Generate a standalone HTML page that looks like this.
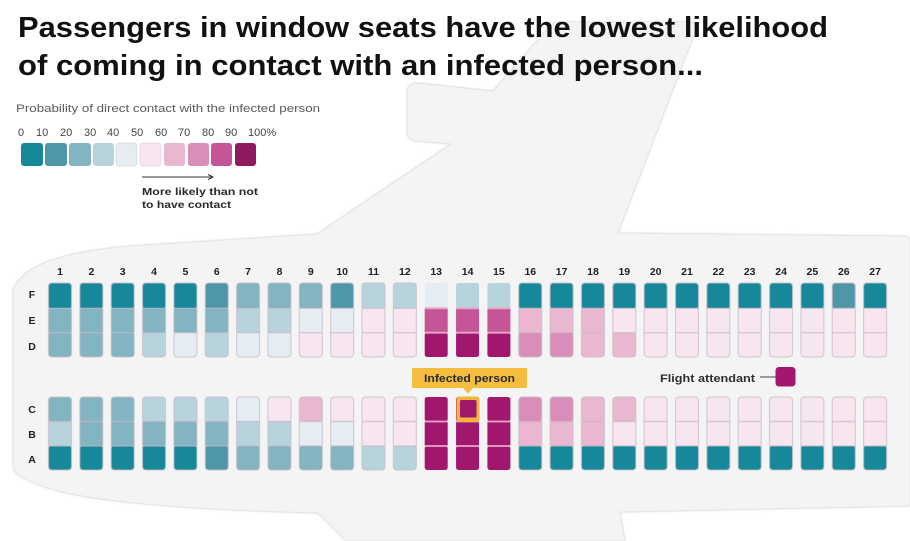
<!DOCTYPE html>
<html><head><meta charset="utf-8">
<style>
html,body{margin:0;padding:0;background:#fff;}
svg{display:block;}
text{font-family:"Liberation Sans",sans-serif;}
.c0{fill:#17879a}.c1{fill:#4e97a9}.c2{fill:#83b4c2}.c3{fill:#b7d4dd}.c4{fill:#e5edf2}
.c5{fill:#f7e6ef}.c6{fill:#e9b7d0}.c7{fill:#da8db8}.c8{fill:#c45697}.c9{fill:#a1176d}
.n{font-size:10.5px;font-weight:bold;fill:#222;text-anchor:middle;}
</style></head>
<body>
<svg width="910" height="541" viewBox="0 0 910 541" xmlns="http://www.w3.org/2000/svg">
<defs>
<filter id="sh" x="-5%" y="-5%" width="110%" height="110%"><feGaussianBlur stdDeviation="1.2"/></filter>
<g id="o">
<rect x="0" y="283" width="23" height="74" rx="3.5" fill="none" stroke="#c6bec8" stroke-width="1.2" opacity="0.7"/>
<path d="M0 308.3H23M0 332.7H23" stroke="#c4b4c3" stroke-width="1.4" opacity="0.6"/>
<rect x="0" y="397" width="23" height="73" rx="3.5" fill="none" stroke="#c6bec8" stroke-width="1.2" opacity="0.7"/>
<path d="M0 421.5H23M0 446H23" stroke="#c4b4c3" stroke-width="1.4" opacity="0.6"/>
</g>
<g id="om">
<path d="M0 308.3H23M0 332.7H23" stroke="#e7a6c9" stroke-width="1.8"/>
<path d="M0 421.5H23M0 446H23" stroke="#e7a6c9" stroke-width="1.8"/>
</g>
</defs>

<!-- plane silhouette -->
<path id="pl" d="M13,290 C22,266 60,252 130,246 L317,234 L451,144 L416,141 Q407,140 407,131 L407,93 Q407,83 417,83 L493,91 L548,28 Q553,22 560,22 L688,22 Q698,22 695,32 L618,233 L905,236 Q910,237 910,240 L910,506 L620,512 L625,541 L346,541 L318,513 C200,510 90,503 45,487 C25,480 13,474 13,466 Z" fill="#d9d9d9" filter="url(#sh)"/>
<path d="M13,290 C22,266 60,252 130,246 L317,234 L451,144 L416,141 Q407,140 407,131 L407,93 Q407,83 417,83 L493,91 L548,28 Q553,22 560,22 L688,22 Q698,22 695,32 L618,233 L905,236 Q910,237 910,240 L910,506 L620,512 L625,541 L346,541 L318,513 C200,510 90,503 45,487 C25,480 13,474 13,466 Z" fill="#f4f4f4" stroke="#e4e4e4" stroke-width="1"/>

<!-- title -->
<text x="18" y="37" font-size="29" font-weight="bold" fill="#111" textLength="810" lengthAdjust="spacingAndGlyphs">Passengers in window seats have the lowest likelihood</text>
<text x="18" y="75" font-size="29" font-weight="bold" fill="#111" textLength="685" lengthAdjust="spacingAndGlyphs">of coming in contact with an infected person...</text>

<!-- legend -->
<text x="16" y="112" font-size="11" fill="#5a5a5a" textLength="304" lengthAdjust="spacingAndGlyphs">Probability of direct contact with the infected person</text>
<g font-size="11" fill="#444">
<text x="18" y="136">0</text><text x="36" y="136">10</text><text x="60" y="136">20</text><text x="84" y="136">30</text><text x="107" y="136">40</text><text x="131" y="136">50</text><text x="155" y="136">60</text><text x="178" y="136">70</text><text x="202" y="136">80</text><text x="225" y="136">90</text><text x="248" y="136">100%</text>
</g>
<g>
<rect x="21" y="143" width="22" height="23" rx="3" class="c0"/>
<rect x="45" y="143" width="22" height="23" rx="3" class="c1"/>
<rect x="69" y="143" width="22" height="23" rx="3" class="c2"/>
<rect x="93" y="143" width="21" height="23" rx="3" class="c3"/>
<rect x="116" y="143" width="21" height="23" rx="3" class="c4" stroke="#d4d8dc" stroke-width="0.8"/>
<rect x="140" y="143" width="21" height="23" rx="3" class="c5" stroke="#e2d2dc" stroke-width="0.8"/>
<rect x="164" y="143" width="21" height="23" rx="3" class="c6"/>
<rect x="188" y="143" width="21" height="23" rx="3" class="c7"/>
<rect x="211" y="143" width="21" height="23" rx="3" class="c8"/>
<rect x="235" y="143" width="21" height="23" rx="3" fill="#8f1a5f"/>
</g>
<path d="M142 177H212" stroke="#333" stroke-width="1"/>
<path d="M208 174.5L213 177L208 179.5" fill="none" stroke="#333" stroke-width="1"/>
<text x="142" y="195" font-size="10.5" font-weight="bold" fill="#2a2a2a" textLength="116" lengthAdjust="spacingAndGlyphs">More likely than not</text>
<text x="142" y="208" font-size="10.5" font-weight="bold" fill="#2a2a2a" textLength="89" lengthAdjust="spacingAndGlyphs">to have contact</text>

<!-- row labels -->
<g>
<text x="32" y="298" class="n">F</text><text x="32" y="324" class="n">E</text><text x="32" y="350" class="n">D</text>
<text x="32" y="413" class="n">C</text><text x="32" y="438" class="n">B</text><text x="32" y="463" class="n">A</text>
</g>

<!-- column numbers -->
<g>
<text class="n" x="60" y="275">1</text><text class="n" x="91.4" y="275">2</text><text class="n" x="122.7" y="275">3</text><text class="n" x="154.1" y="275">4</text><text class="n" x="185.4" y="275">5</text><text class="n" x="216.8" y="275">6</text><text class="n" x="248.1" y="275">7</text><text class="n" x="279.5" y="275">8</text><text class="n" x="310.8" y="275">9</text><text class="n" x="342.2" y="275">10</text><text class="n" x="373.5" y="275">11</text><text class="n" x="404.9" y="275">12</text><text class="n" x="436.2" y="275">13</text><text class="n" x="467.6" y="275">14</text><text class="n" x="498.9" y="275">15</text><text class="n" x="530.3" y="275">16</text><text class="n" x="561.6" y="275">17</text><text class="n" x="593" y="275">18</text><text class="n" x="624.3" y="275">19</text><text class="n" x="655.7" y="275">20</text><text class="n" x="687" y="275">21</text><text class="n" x="718.4" y="275">22</text><text class="n" x="749.7" y="275">23</text><text class="n" x="781.1" y="275">24</text><text class="n" x="812.4" y="275">25</text><text class="n" x="843.8" y="275">26</text><text class="n" x="875.1" y="275">27</text>
</g>

<!-- seats: F,E,D,C,B,A -->
<g transform="translate(48.5,0)"><rect class="c0" y="283" width="23" height="25.3" rx="2.5"/><rect class="c2" y="308.3" width="23" height="24.4" rx="1"/><rect class="c2" y="332.7" width="23" height="24.3" rx="2.5"/><rect class="c2" y="397" width="23" height="24.5" rx="2.5"/><rect class="c3" y="421.5" width="23" height="24.5" rx="1"/><rect class="c0" y="446" width="23" height="24" rx="2.5"/><use href="#o"/></g>
<g transform="translate(79.85,0)"><rect class="c0" y="283" width="23" height="25.3" rx="2.5"/><rect class="c2" y="308.3" width="23" height="24.4" rx="1"/><rect class="c2" y="332.7" width="23" height="24.3" rx="2.5"/><rect class="c2" y="397" width="23" height="24.5" rx="2.5"/><rect class="c2" y="421.5" width="23" height="24.5" rx="1"/><rect class="c0" y="446" width="23" height="24" rx="2.5"/><use href="#o"/></g>
<g transform="translate(111.2,0)"><rect class="c0" y="283" width="23" height="25.3" rx="2.5"/><rect class="c2" y="308.3" width="23" height="24.4" rx="1"/><rect class="c2" y="332.7" width="23" height="24.3" rx="2.5"/><rect class="c2" y="397" width="23" height="24.5" rx="2.5"/><rect class="c2" y="421.5" width="23" height="24.5" rx="1"/><rect class="c0" y="446" width="23" height="24" rx="2.5"/><use href="#o"/></g>
<g transform="translate(142.55,0)"><rect class="c0" y="283" width="23" height="25.3" rx="2.5"/><rect class="c2" y="308.3" width="23" height="24.4" rx="1"/><rect class="c3" y="332.7" width="23" height="24.3" rx="2.5"/><rect class="c3" y="397" width="23" height="24.5" rx="2.5"/><rect class="c2" y="421.5" width="23" height="24.5" rx="1"/><rect class="c0" y="446" width="23" height="24" rx="2.5"/><use href="#o"/></g>
<g transform="translate(173.9,0)"><rect class="c0" y="283" width="23" height="25.3" rx="2.5"/><rect class="c2" y="308.3" width="23" height="24.4" rx="1"/><rect class="c4" y="332.7" width="23" height="24.3" rx="2.5"/><rect class="c3" y="397" width="23" height="24.5" rx="2.5"/><rect class="c2" y="421.5" width="23" height="24.5" rx="1"/><rect class="c0" y="446" width="23" height="24" rx="2.5"/><use href="#o"/></g>
<g transform="translate(205.25,0)"><rect class="c1" y="283" width="23" height="25.3" rx="2.5"/><rect class="c2" y="308.3" width="23" height="24.4" rx="1"/><rect class="c3" y="332.7" width="23" height="24.3" rx="2.5"/><rect class="c3" y="397" width="23" height="24.5" rx="2.5"/><rect class="c2" y="421.5" width="23" height="24.5" rx="1"/><rect class="c1" y="446" width="23" height="24" rx="2.5"/><use href="#o"/></g>
<g transform="translate(236.6,0)"><rect class="c2" y="283" width="23" height="25.3" rx="2.5"/><rect class="c3" y="308.3" width="23" height="24.4" rx="1"/><rect class="c4" y="332.7" width="23" height="24.3" rx="2.5"/><rect class="c4" y="397" width="23" height="24.5" rx="2.5"/><rect class="c3" y="421.5" width="23" height="24.5" rx="1"/><rect class="c2" y="446" width="23" height="24" rx="2.5"/><use href="#o"/></g>
<g transform="translate(267.95,0)"><rect class="c2" y="283" width="23" height="25.3" rx="2.5"/><rect class="c3" y="308.3" width="23" height="24.4" rx="1"/><rect class="c4" y="332.7" width="23" height="24.3" rx="2.5"/><rect class="c5" y="397" width="23" height="24.5" rx="2.5"/><rect class="c3" y="421.5" width="23" height="24.5" rx="1"/><rect class="c2" y="446" width="23" height="24" rx="2.5"/><use href="#o"/></g>
<g transform="translate(299.3,0)"><rect class="c2" y="283" width="23" height="25.3" rx="2.5"/><rect class="c4" y="308.3" width="23" height="24.4" rx="1"/><rect class="c5" y="332.7" width="23" height="24.3" rx="2.5"/><rect class="c6" y="397" width="23" height="24.5" rx="2.5"/><rect class="c4" y="421.5" width="23" height="24.5" rx="1"/><rect class="c2" y="446" width="23" height="24" rx="2.5"/><use href="#o"/></g>
<g transform="translate(330.65,0)"><rect class="c1" y="283" width="23" height="25.3" rx="2.5"/><rect class="c4" y="308.3" width="23" height="24.4" rx="1"/><rect class="c5" y="332.7" width="23" height="24.3" rx="2.5"/><rect class="c5" y="397" width="23" height="24.5" rx="2.5"/><rect class="c4" y="421.5" width="23" height="24.5" rx="1"/><rect class="c2" y="446" width="23" height="24" rx="2.5"/><use href="#o"/></g>
<g transform="translate(362,0)"><rect class="c3" y="283" width="23" height="25.3" rx="2.5"/><rect class="c5" y="308.3" width="23" height="24.4" rx="1"/><rect class="c5" y="332.7" width="23" height="24.3" rx="2.5"/><rect class="c5" y="397" width="23" height="24.5" rx="2.5"/><rect class="c5" y="421.5" width="23" height="24.5" rx="1"/><rect class="c3" y="446" width="23" height="24" rx="2.5"/><use href="#o"/></g>
<g transform="translate(393.35,0)"><rect class="c3" y="283" width="23" height="25.3" rx="2.5"/><rect class="c5" y="308.3" width="23" height="24.4" rx="1"/><rect class="c5" y="332.7" width="23" height="24.3" rx="2.5"/><rect class="c5" y="397" width="23" height="24.5" rx="2.5"/><rect class="c5" y="421.5" width="23" height="24.5" rx="1"/><rect class="c3" y="446" width="23" height="24" rx="2.5"/><use href="#o"/></g>
<g transform="translate(424.7,0)"><rect class="c4" y="283" width="23" height="25.3" rx="2.5"/><rect class="c8" y="308.3" width="23" height="24.4" rx="1"/><rect class="c9" y="332.7" width="23" height="24.3" rx="2.5"/><rect class="c9" y="397" width="23" height="24.5" rx="2.5"/><rect class="c9" y="421.5" width="23" height="24.5" rx="1"/><rect class="c9" y="446" width="23" height="24" rx="2.5"/><use href="#om"/></g>
<g transform="translate(456.05,0)"><rect class="c3" y="283" width="23" height="25.3" rx="2.5"/><rect class="c8" y="308.3" width="23" height="24.4" rx="1"/><rect class="c9" y="332.7" width="23" height="24.3" rx="2.5"/><rect class="c9" y="397" width="23" height="24.5" rx="2.5"/><rect class="c9" y="421.5" width="23" height="24.5" rx="1"/><rect class="c9" y="446" width="23" height="24" rx="2.5"/><use href="#om"/></g>
<g transform="translate(487.4,0)"><rect class="c3" y="283" width="23" height="25.3" rx="2.5"/><rect class="c8" y="308.3" width="23" height="24.4" rx="1"/><rect class="c9" y="332.7" width="23" height="24.3" rx="2.5"/><rect class="c9" y="397" width="23" height="24.5" rx="2.5"/><rect class="c9" y="421.5" width="23" height="24.5" rx="1"/><rect class="c9" y="446" width="23" height="24" rx="2.5"/><use href="#om"/></g>
<g transform="translate(518.75,0)"><rect class="c0" y="283" width="23" height="25.3" rx="2.5"/><rect class="c6" y="308.3" width="23" height="24.4" rx="1"/><rect class="c7" y="332.7" width="23" height="24.3" rx="2.5"/><rect class="c7" y="397" width="23" height="24.5" rx="2.5"/><rect class="c6" y="421.5" width="23" height="24.5" rx="1"/><rect class="c0" y="446" width="23" height="24" rx="2.5"/><use href="#o"/></g>
<g transform="translate(550.1,0)"><rect class="c0" y="283" width="23" height="25.3" rx="2.5"/><rect class="c6" y="308.3" width="23" height="24.4" rx="1"/><rect class="c7" y="332.7" width="23" height="24.3" rx="2.5"/><rect class="c7" y="397" width="23" height="24.5" rx="2.5"/><rect class="c6" y="421.5" width="23" height="24.5" rx="1"/><rect class="c0" y="446" width="23" height="24" rx="2.5"/><use href="#o"/></g>
<g transform="translate(581.45,0)"><rect class="c0" y="283" width="23" height="25.3" rx="2.5"/><rect class="c6" y="308.3" width="23" height="24.4" rx="1"/><rect class="c6" y="332.7" width="23" height="24.3" rx="2.5"/><rect class="c6" y="397" width="23" height="24.5" rx="2.5"/><rect class="c6" y="421.5" width="23" height="24.5" rx="1"/><rect class="c0" y="446" width="23" height="24" rx="2.5"/><use href="#o"/></g>
<g transform="translate(612.8,0)"><rect class="c0" y="283" width="23" height="25.3" rx="2.5"/><rect class="c5" y="308.3" width="23" height="24.4" rx="1"/><rect class="c6" y="332.7" width="23" height="24.3" rx="2.5"/><rect class="c6" y="397" width="23" height="24.5" rx="2.5"/><rect class="c5" y="421.5" width="23" height="24.5" rx="1"/><rect class="c0" y="446" width="23" height="24" rx="2.5"/><use href="#o"/></g>
<g transform="translate(644.15,0)"><rect class="c0" y="283" width="23" height="25.3" rx="2.5"/><rect class="c5" y="308.3" width="23" height="24.4" rx="1"/><rect class="c5" y="332.7" width="23" height="24.3" rx="2.5"/><rect class="c5" y="397" width="23" height="24.5" rx="2.5"/><rect class="c5" y="421.5" width="23" height="24.5" rx="1"/><rect class="c0" y="446" width="23" height="24" rx="2.5"/><use href="#o"/></g>
<g transform="translate(675.5,0)"><rect class="c0" y="283" width="23" height="25.3" rx="2.5"/><rect class="c5" y="308.3" width="23" height="24.4" rx="1"/><rect class="c5" y="332.7" width="23" height="24.3" rx="2.5"/><rect class="c5" y="397" width="23" height="24.5" rx="2.5"/><rect class="c5" y="421.5" width="23" height="24.5" rx="1"/><rect class="c0" y="446" width="23" height="24" rx="2.5"/><use href="#o"/></g>
<g transform="translate(706.85,0)"><rect class="c0" y="283" width="23" height="25.3" rx="2.5"/><rect class="c5" y="308.3" width="23" height="24.4" rx="1"/><rect class="c5" y="332.7" width="23" height="24.3" rx="2.5"/><rect class="c5" y="397" width="23" height="24.5" rx="2.5"/><rect class="c5" y="421.5" width="23" height="24.5" rx="1"/><rect class="c0" y="446" width="23" height="24" rx="2.5"/><use href="#o"/></g>
<g transform="translate(738.2,0)"><rect class="c0" y="283" width="23" height="25.3" rx="2.5"/><rect class="c5" y="308.3" width="23" height="24.4" rx="1"/><rect class="c5" y="332.7" width="23" height="24.3" rx="2.5"/><rect class="c5" y="397" width="23" height="24.5" rx="2.5"/><rect class="c5" y="421.5" width="23" height="24.5" rx="1"/><rect class="c0" y="446" width="23" height="24" rx="2.5"/><use href="#o"/></g>
<g transform="translate(769.55,0)"><rect class="c0" y="283" width="23" height="25.3" rx="2.5"/><rect class="c5" y="308.3" width="23" height="24.4" rx="1"/><rect class="c5" y="332.7" width="23" height="24.3" rx="2.5"/><rect class="c5" y="397" width="23" height="24.5" rx="2.5"/><rect class="c5" y="421.5" width="23" height="24.5" rx="1"/><rect class="c0" y="446" width="23" height="24" rx="2.5"/><use href="#o"/></g>
<g transform="translate(800.9,0)"><rect class="c0" y="283" width="23" height="25.3" rx="2.5"/><rect class="c5" y="308.3" width="23" height="24.4" rx="1"/><rect class="c5" y="332.7" width="23" height="24.3" rx="2.5"/><rect class="c5" y="397" width="23" height="24.5" rx="2.5"/><rect class="c5" y="421.5" width="23" height="24.5" rx="1"/><rect class="c0" y="446" width="23" height="24" rx="2.5"/><use href="#o"/></g>
<g transform="translate(832.25,0)"><rect class="c1" y="283" width="23" height="25.3" rx="2.5"/><rect class="c5" y="308.3" width="23" height="24.4" rx="1"/><rect class="c5" y="332.7" width="23" height="24.3" rx="2.5"/><rect class="c5" y="397" width="23" height="24.5" rx="2.5"/><rect class="c5" y="421.5" width="23" height="24.5" rx="1"/><rect class="c0" y="446" width="23" height="24" rx="2.5"/><use href="#o"/></g>
<g transform="translate(863.6,0)"><rect class="c0" y="283" width="23" height="25.3" rx="2.5"/><rect class="c5" y="308.3" width="23" height="24.4" rx="1"/><rect class="c5" y="332.7" width="23" height="24.3" rx="2.5"/><rect class="c5" y="397" width="23" height="24.5" rx="2.5"/><rect class="c5" y="421.5" width="23" height="24.5" rx="1"/><rect class="c0" y="446" width="23" height="24" rx="2.5"/><use href="#o"/></g>

<!-- infected person -->
<rect x="456.5" y="396.5" width="23" height="25.5" rx="3" fill="#f2b43c"/>
<rect x="460" y="400" width="16.5" height="17.5" rx="1.5" class="c9"/>
<rect x="412" y="368" width="115" height="20" rx="1.5" fill="#f5bd3f"/>
<path d="M463 388L468 393.5L473 388Z" fill="#f5bd3f"/>
<text x="469.5" y="382" font-size="11" font-weight="bold" fill="#2b2b2b" text-anchor="middle" textLength="91" lengthAdjust="spacingAndGlyphs">Infected person</text>

<!-- flight attendant -->
<text x="755" y="382" font-size="11" font-weight="bold" fill="#2e2e2e" text-anchor="end" textLength="95" lengthAdjust="spacingAndGlyphs">Flight attendant</text>
<path d="M760 377H776" stroke="#444" stroke-width="1"/>
<rect x="775.5" y="367" width="20" height="19.5" rx="3.5" fill="#a3176e"/>
</svg>
</body></html>
